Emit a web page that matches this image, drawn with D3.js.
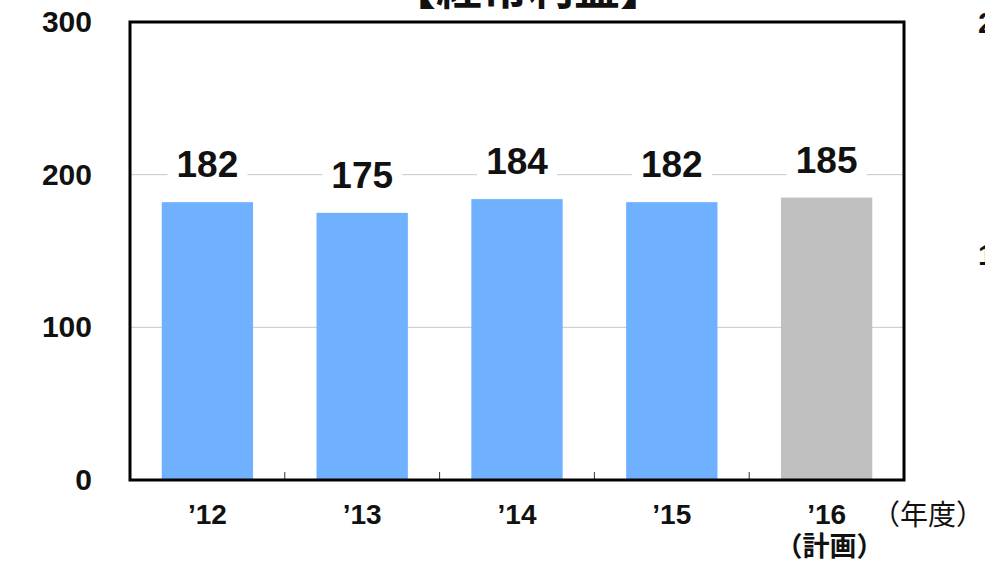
<!DOCTYPE html>
<html>
<head>
<meta charset="utf-8">
<script src="https://cdn.jsdelivr.net/npm/d3@7"></script>
<style>
  html, body { margin: 0; padding: 0; background: #fff; }
  svg { display: block; }
  text { font-family: "Liberation Sans", Arial, sans-serif; }
  .jp { font-family: "Noto Sans CJK JP", "Noto Sans", sans-serif; }
</style>
</head>
<body>
<script>
// 経常利益（億円）
const years = ["’12", "’13", "’14", "’15", "’16"];
const profit = [182, 175, 184, 182, 185];
const planFlags = [false, false, false, false, true];
const yTicks = [0, 100, 200, 300];
const title = "【経常利益】";
const unitLabel = "（年度）";
const planLabel = "（計画）";

const W = 985, H = 564;
const margin = { left: 130, right: 81, top: 22, bottom: 84 };
const plotW = W - margin.left - margin.right;
const plotH = H - margin.top - margin.bottom;

const svg = d3.select("body").append("svg")
  .attr("width", W).attr("height", H);

const g = svg.append("g")
  .attr("transform", `translate(${margin.left},${margin.top})`);

const x = d3.scaleBand().domain(years).range([0, plotW]).paddingInner(0.41).paddingOuter(0.205);
const xCell = d3.scaleBand().domain(years).range([0, plotW]);
const y = d3.scaleLinear().domain([0, 300]).range([plotH, 0]);

// horizontal gridlines
g.append("g").selectAll("line")
  .data(yTicks.filter(t => t > 0 && t < 300))
  .join("line")
  .attr("x1", 0).attr("x2", plotW)
  .attr("y1", d => y(d)).attr("y2", d => y(d))
  .attr("stroke", "#c8c8c8").attr("stroke-width", 1);

// bars
g.append("g").selectAll("rect")
  .data(profit)
  .join("rect")
  .attr("x", (d, i) => x(years[i]))
  .attr("width", x.bandwidth())
  .attr("y", d => y(d))
  .attr("height", d => plotH - y(d))
  .attr("fill", (d, i) => planFlags[i] ? "#c0c0c0" : "#70b1ff");

// category separators on the baseline
g.append("g").selectAll("line")
  .data(years.slice(1))
  .join("line")
  .attr("x1", d => xCell(d)).attr("x2", d => xCell(d))
  .attr("y1", plotH).attr("y2", plotH - 8)
  .attr("stroke", "#333").attr("stroke-width", 1);

// value labels with white backing (breaks gridline)
const labels = g.append("g").selectAll("g")
  .data(profit)
  .join("g")
  .attr("transform", (d, i) => `translate(${x(years[i]) + x.bandwidth() / 2},${y(d) - 38})`);
labels.append("rect")
  .attr("x", -40).attr("width", 80)
  .attr("y", -20).attr("height", 40)
  .attr("fill", "#fff");
labels.append("text")
  .attr("text-anchor", "middle")
  .attr("dy", "0.36em")
  .attr("font-size", 37)
  .attr("font-weight", "bold")
  .attr("fill", "#111")
  .text(d => d);

// frame
g.append("rect")
  .attr("x", 0).attr("y", 0)
  .attr("width", plotW).attr("height", plotH)
  .attr("fill", "none")
  .attr("stroke", "#000").attr("stroke-width", 3);

// y axis labels
const yAxis = d3.axisLeft(y).tickValues(yTicks).tickSize(0).tickPadding(38).tickFormat(d3.format("d"));
const ya = g.append("g").call(yAxis);
ya.select(".domain").remove();
ya.selectAll("text")
  .attr("font-size", 30).attr("font-weight", "bold").attr("fill", "#111")
  .attr("font-family", "Liberation Sans, Arial, sans-serif");

// x axis labels
const xAxis = d3.axisBottom(xCell).tickSize(0).tickPadding(24);
const xa = g.append("g").attr("transform", `translate(0,${plotH})`).call(xAxis);
xa.select(".domain").remove();
xa.selectAll("text")
  .attr("font-size", 28).attr("font-weight", "bold").attr("fill", "#111")
  .attr("font-family", "Liberation Sans, Arial, sans-serif");

// plan annotation under the last year
g.append("text").attr("class", "jp")
  .attr("x", xCell(years[4]) + xCell.bandwidth() / 2 + 3)
  .attr("y", plotH + 76)
  .attr("text-anchor", "middle")
  .attr("font-size", 27).attr("font-weight", "bold").attr("fill", "#111")
  .text(planLabel);

// unit label
svg.append("text").attr("class", "jp")
  .attr("x", 984).attr("y", 525)
  .attr("text-anchor", "end")
  .attr("font-size", 28).attr("fill", "#111")
  .text(unitLabel);

// title
svg.append("text").attr("class", "jp")
  .attr("x", 528).attr("y", 4)
  .attr("text-anchor", "middle")
  .attr("font-size", 46).attr("font-weight", "bold").attr("fill", "#111")
  .text(title);

// neighbouring panel's axis labels at the right edge
svg.append("g").selectAll("text")
  .data([{ v: "200", cy: 22 }, { v: "100", cy: 254 }])
  .join("text")
  .attr("x", 978).attr("y", d => d.cy)
  .attr("dy", "0.36em")
  .attr("font-size", 30).attr("font-weight", "bold").attr("fill", "#111")
  .text(d => d.v);
</script>
</body>
</html>
